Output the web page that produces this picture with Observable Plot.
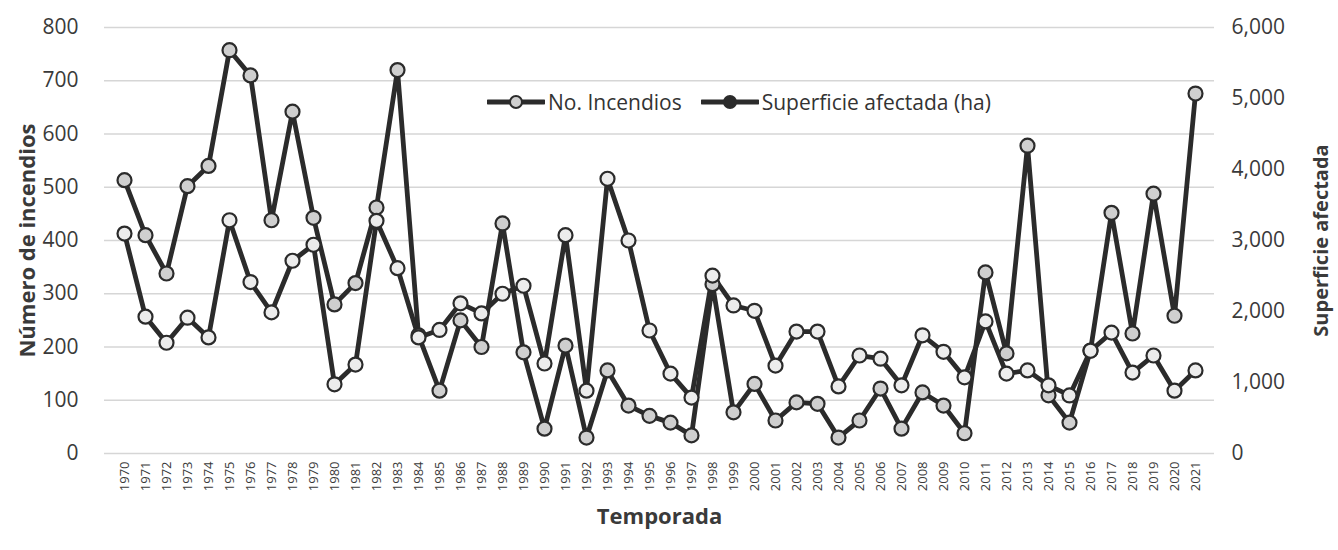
<!DOCTYPE html>
<html><head><meta charset="utf-8">
<script src="https://cdn.jsdelivr.net/npm/d3@7"></script>
<script src="https://cdn.jsdelivr.net/npm/@observablehq/plot@0.6"></script>
<style>
body{margin:0;background:#fff;font-family:"Open Sans",sans-serif}
#wrap{position:relative;width:1338px;height:550px}
.legend{position:absolute;top:88px;left:487px;display:flex;align-items:center;font-size:21px;color:#333;font-family:"Open Sans",sans-serif}
.legend .item{display:flex;align-items:center;margin-right:19px}
.legend svg{margin-right:3px}
</style></head><body><div id="wrap"></div>
<script>
const years = [1970,1971,1972,1973,1974,1975,1976,1977,1978,1979,1980,1981,1982,1983,1984,1985,1986,1987,1988,1989,1990,1991,1992,1993,1994,1995,1996,1997,1998,1999,2000,2001,2002,2003,2004,2005,2006,2007,2008,2009,2010,2011,2012,2013,2014,2015,2016,2017,2018,2019,2020,2021];
const incendios = [413,257,208,255,218,438,322,265,362,392,130,167,437,348,218,232,282,263,300,315,169,410,118,516,400,231,150,105,334,278,268,165,229,229,126,184,178,128,222,191,143,248,150,156,128,109,193,227,152,184,118,156];
const superficie = [3850,3075,2535,3765,4050,5680,5325,3285,4815,3320,2100,2400,3465,5400,1665,885,1875,1500,3240,1425,350,1520,225,1170,675,530,435,255,2385,580,980,465,720,700,225,465,915,350,860,675,285,2550,1410,4335,820,435,1450,3390,1690,3660,1940,5070];
const leftTicks = [0,100,200,300,400,500,600,700,800];
const rightTicks = [0,1000,2000,3000,4000,5000,6000];
const seriesNames = ["No. Incendios","Superficie afectada (ha)"];

const ratio = rightTicks[rightTicks.length-1] / leftTicks[leftTicks.length-1];
const data = years.map((y,i)=>({year:y, inc:incendios[i], sup:superficie[i]/ratio}));
const ink = "#2b2b2b";

const chart = Plot.plot({
  width:1338, height:550,
  marginLeft:104, marginRight:124, marginTop:27, marginBottom:97,
  style:{fontFamily:"Open Sans, sans-serif", fontSize:"21px", color:"#3a3a3a", background:"#fff"},
  x:{type:"point", domain:years, padding:0.42},
  y:{domain:[0,800]},
  marks:[
    Plot.ruleY(leftTicks,{stroke:"#d6d6d6", strokeWidth:1.6}),
    Plot.axisY(leftTicks,{anchor:"left", tickSize:0, tickPadding:26, label:null, fontSize:21}),
    Plot.axisY(rightTicks.map(v=>v/ratio),{anchor:"right", tickSize:0, tickPadding:17, label:null, fontSize:21,
      tickFormat:d=>d3.format(",")(Math.round(d*ratio))}),
    Plot.axisX({tickRotate:-90, tickSize:0, tickPadding:8, label:null, fontSize:13, tickFormat:d=>String(d)}),
    Plot.line(data,{x:"year", y:"sup", stroke:ink, strokeWidth:4.8, strokeLinejoin:"round"}),
    Plot.line(data,{x:"year", y:"inc", stroke:ink, strokeWidth:4.8, strokeLinejoin:"round"}),
    Plot.dot(data,{x:"year", y:"sup", r:7, fill:"#cfcfcf", stroke:ink, strokeWidth:2.2}),
    Plot.dot(data,{x:"year", y:"inc", r:7, fill:"#ececec", stroke:ink, strokeWidth:2.2}),
    Plot.text(["Número de incendios"],{frameAnchor:"left", dx:-77, rotate:-90, textAnchor:"middle", fontSize:22, fontWeight:"bold", fill:"#3a3a3a"}),
    Plot.text(["Superficie afectada"],{frameAnchor:"right", dx:107, rotate:-90, textAnchor:"middle", fontSize:20, fontWeight:"bold", fill:"#3a3a3a"}),
    Plot.text(["Temporada"],{frameAnchor:"bottom", dy:70, fontSize:22, fontWeight:"bold", fill:"#3a3a3a"})
  ]
});
const wrap = document.getElementById("wrap");
wrap.appendChild(chart);

const legend = document.createElement("div");
legend.className = "legend";
seriesNames.forEach((name,i)=>{
  const item = document.createElement("div");
  item.className = "item";
  const fill = i===0 ? "#cfcfcf" : ink;
  item.innerHTML = `<svg width="58" height="16"><line x1="1" y1="8" x2="57" y2="8" stroke="${ink}" stroke-width="5" stroke-linecap="round"/><circle cx="29" cy="8" r="6" fill="${fill}" stroke="${ink}" stroke-width="2"/></svg><span>${name}</span>`;
  legend.appendChild(item);
});
wrap.appendChild(legend);
</script>
</body></html>
